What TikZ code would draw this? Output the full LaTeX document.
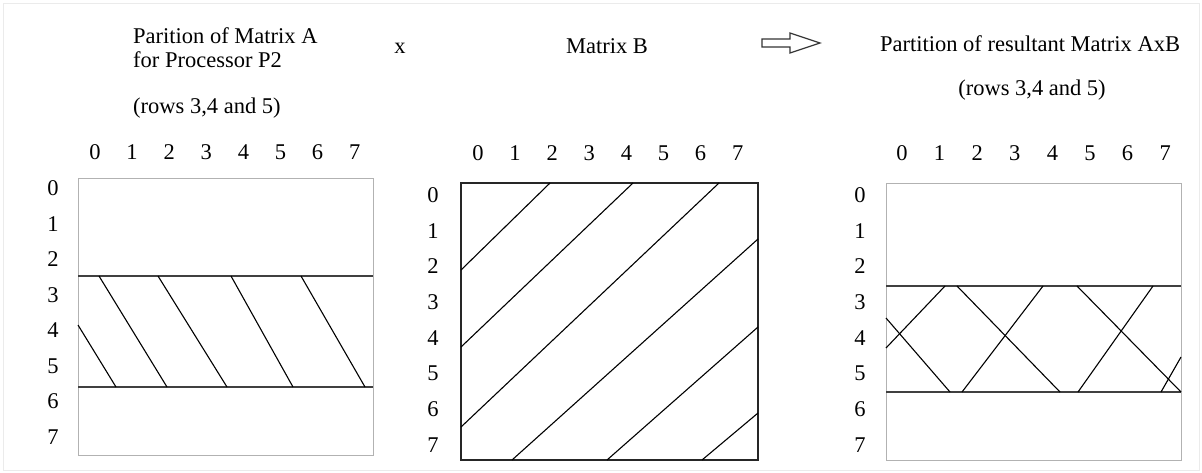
\documentclass[tikz,border=0pt]{standalone}
\usepackage{fontspec}
\setmainfont{Liberation Serif}
\usetikzlibrary{positioning}

\begin{document}
\begin{tikzpicture}[x=1pt,y=-1pt,
    every node/.style={font=\fontsize{22.5}{27}\selectfont, inner sep=0pt},
    lightbox/.style={draw=black!30, line width=1pt},
    darkbox/.style={draw=black!85, line width=1.6pt},
    bandline/.style={draw=black!75, line width=2pt},
    hatch/.style={draw=black, line width=1.1pt}]
    \useasboundingbox (0,0) rectangle (1202,472);
    \draw[black!8] (3,3) rectangle (1199,470);

    % headings
    \node[anchor=base west] (titleA1) at (133,43) {Parition of Matrix A};
    \node[anchor=base west] (titleA2) at (133,67) {for Processor P2};
    \node[anchor=base west] (titleA3) at (133,113) {(rows 3,4 and 5)};
    \node[anchor=base] (times) at (400,53) {x};
    \node[anchor=base] (titleB) at (607,53) {Matrix B};
    \node[anchor=base] (titleC1) at (1030,51) {Partition of resultant Matrix AxB};
    \node[anchor=base] (titleC2) at (1032,95) {(rows 3,4 and 5)};
    \draw[black!80, line width=1.2pt] (762,39) -- (790,39) -- (790,33) -- (820,43)
        -- (790,53) -- (790,47) -- (762,47) -- cycle;

    % index numbers
    \foreach \i in {0,...,7} {
        \node[anchor=base] (colA\i) at (95+37.1*\i,159) {\i};
        \node (rowA\i) at (53,188+35.6*\i) {\i};
        \node[anchor=base] (colB\i) at (478+37.1*\i,160) {\i};
        \node (rowB\i) at (433,195+35.7*\i) {\i};
        \node[anchor=base] (colC\i) at (902+37.6*\i,160) {\i};
        \node (rowC\i) at (860,195+35.7*\i) {\i};
    }

    % matrix A, rows 3-5
    \draw[lightbox] (78,178) rectangle (373,455);
    \draw[bandline] (78,276) -- (373,276);
    \draw[bandline] (78,387) -- (373,387);
    \foreach \xa/\ya/\xb/\yb in {78/325/116/387, 99/276/167/387, 158/276/227/387,
        231/276/293/387, 301/276/365/387}
        \draw[hatch] (\xa,\ya) -- (\xb,\yb);

    % matrix B
    \draw[darkbox] (461,183) rectangle (758,460);
    \foreach \xa/\ya/\xb/\yb in {461/270/550/183, 461/347/633/183, 461/427/719/183,
        512/460/758/239, 607/460/758/327, 702/460/758/413}
        \draw[hatch] (\xa,\ya) -- (\xb,\yb);

    % result, rows 3-5
    \draw[lightbox] (886,183) rectangle (1181,460);
    \draw[bandline] (886,286) -- (1181,286);
    \draw[bandline] (886,392) -- (1181,392);
    \foreach \xa/\ya/\xb/\yb in {886/318/950/392, 957/286/1060/392, 1077/286/1181/392,
        886/348/945/286, 962/392/1043/286, 1078/392/1153/286, 1161/392/1181/357}
        \draw[hatch] (\xa,\ya) -- (\xb,\yb);
\end{tikzpicture}
\end{document}
